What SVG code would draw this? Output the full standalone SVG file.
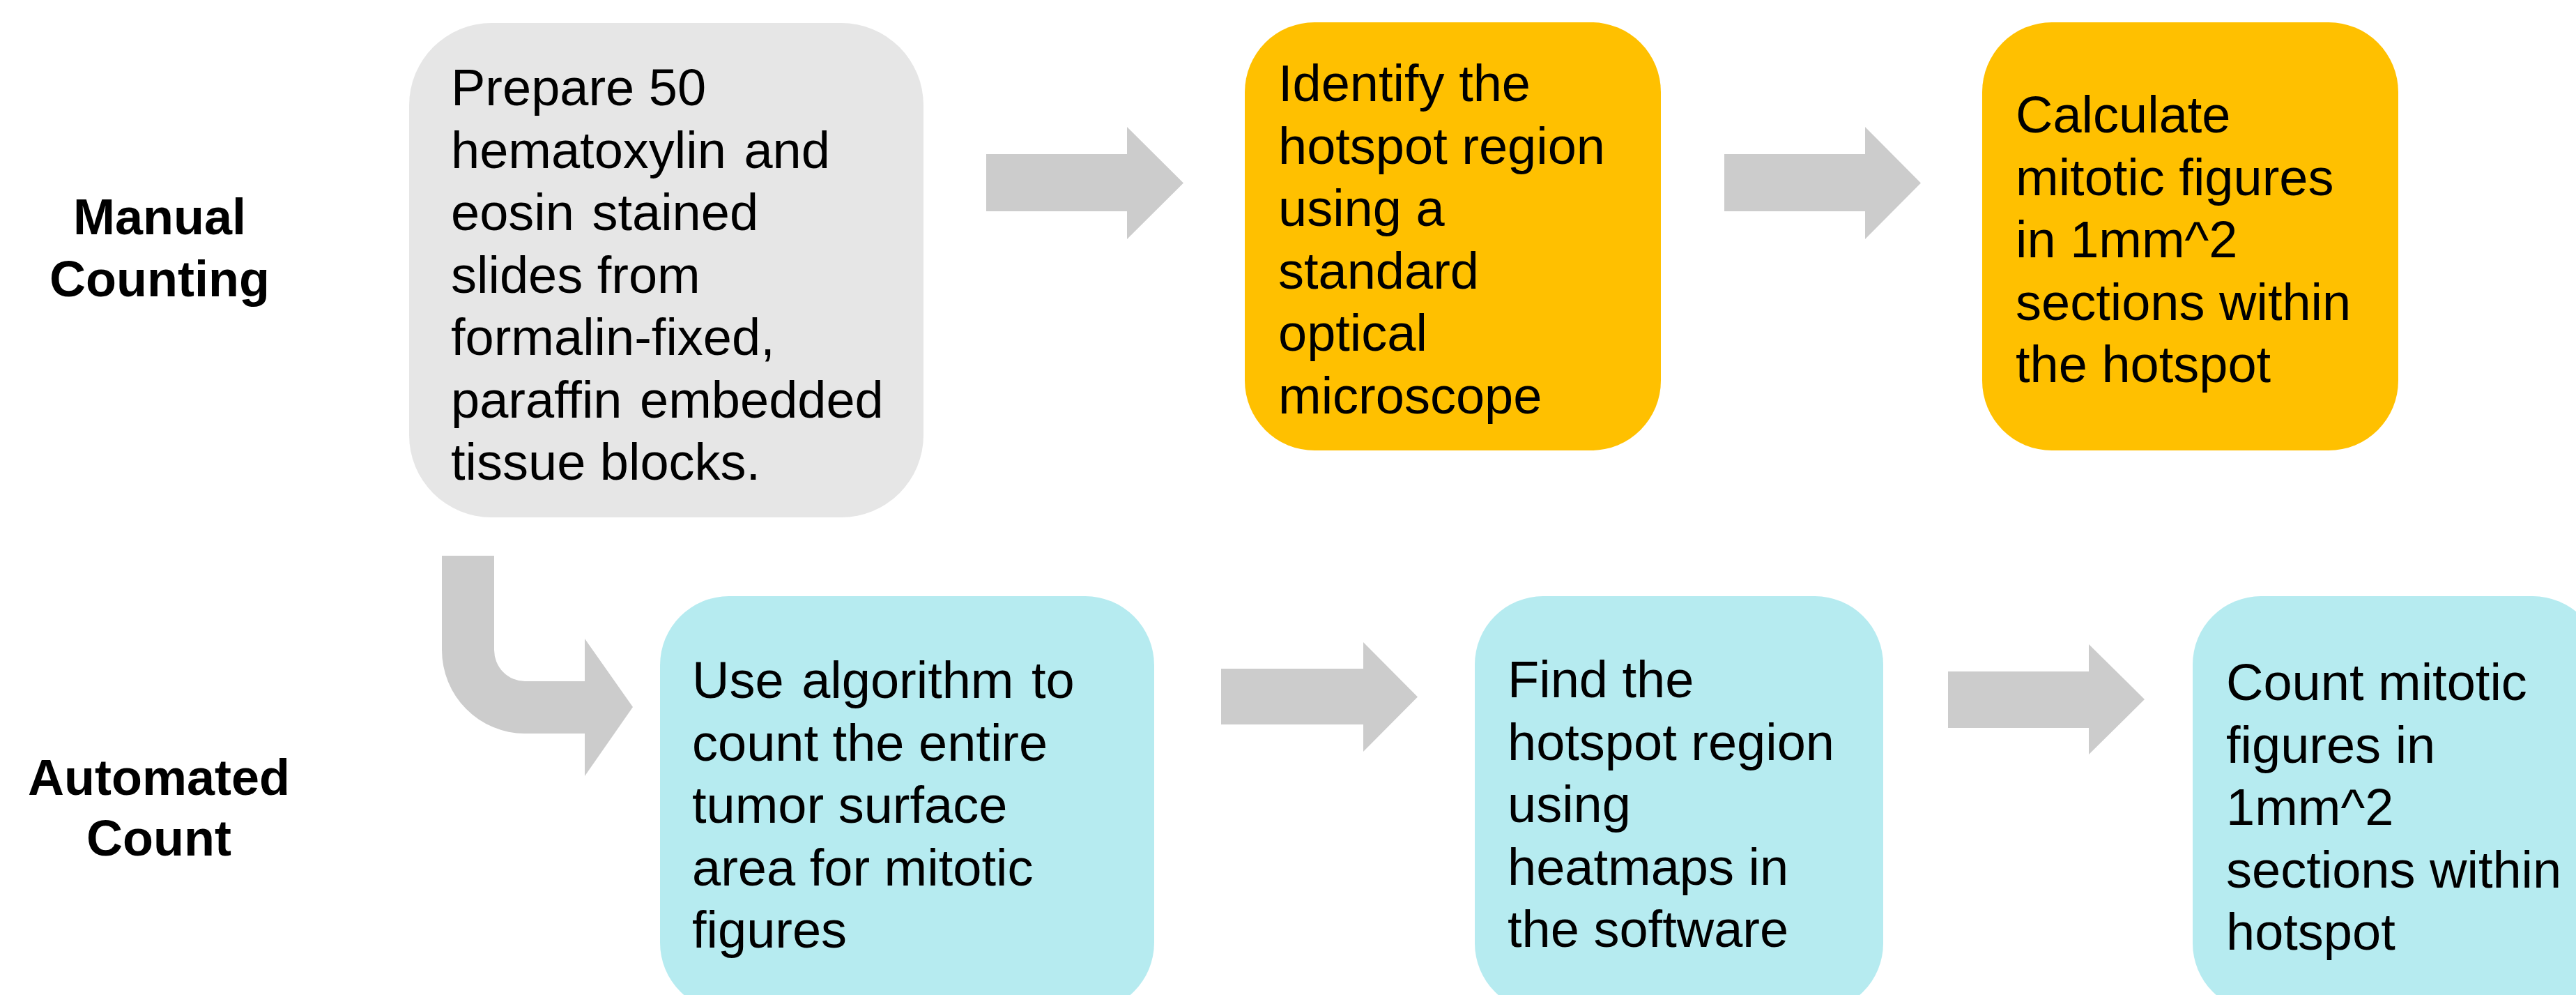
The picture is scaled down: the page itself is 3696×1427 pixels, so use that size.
<svg xmlns="http://www.w3.org/2000/svg" width="3696" height="1427" viewBox="0 0 3696 1427">
  <style>
    .lbl { font-family: "Liberation Sans", Arial, sans-serif; font-size: 72px; font-weight: bold; fill: #000; text-anchor: middle; }
    .txt { font-family: "Liberation Sans", Arial, sans-serif; font-size: 74px; fill: #000; }
    .wide { word-spacing: 5px; }
    .gray { fill: #E6E6E6; }
    .gold { fill: #FFC000; }
    .aqua { fill: #B6EBF0; }
    .arrow { fill: #CCCCCC; }
  </style>

  <rect width="3696" height="1427" fill="#FFFFFF"/>

  <!-- row labels -->
  <g id="label-manual">
    <text class="lbl" x="229" y="336">Manual</text>
    <text class="lbl" x="229" y="425">Counting</text>
  </g>
  <g id="label-automated">
    <text class="lbl" x="228" y="1140">Automated</text>
    <text class="lbl" x="228" y="1227">Count</text>
  </g>

  <!-- connectors -->
  <g id="connectors">
    <path id="arrow-prepare-identify" class="arrow" d="M1415,221 H1617 V182 L1698,262.5 L1617,343 V303 H1415 Z"/>
    <path id="arrow-identify-calculate" class="arrow" d="M2474,221 H2676 V182 L2756,262.5 L2676,343 V303 H2474 Z"/>
    <path id="arrow-prepare-algorithm" class="arrow" d="M634,797 L709,797 L709,932 A44,45 0 0 0 753,977 L839,977 L839,916 L908,1014 L839,1113 L839,1052 L753,1052 A119,120 0 0 1 634,932 Z"/>
    <path id="arrow-algorithm-find" class="arrow" d="M1752,959 H1956 V921 L2034,999.5 L1956,1078 V1039 H1752 Z"/>
    <path id="arrow-find-count" class="arrow" d="M2795,963 H2997 V924 L3077,1003 L2997,1082 V1044 H2795 Z"/>
  </g>

  <!-- manual counting row -->
  <g id="node-prepare">
    <rect class="gray" x="587" y="33" width="738" height="709" rx="118" ry="118"/>
    <text class="txt">
      <tspan x="647" y="151">Prepare 50</tspan>
      <tspan x="647" y="240.5" class="wide">hematoxylin and</tspan>
      <tspan x="647" y="330" class="wide">eosin stained</tspan>
      <tspan x="647" y="419.5">slides from</tspan>
      <tspan x="647" y="509">formalin-fixed,</tspan>
      <tspan x="647" y="598.5" class="wide">paraffin embedded</tspan>
      <tspan x="647" y="688">tissue blocks.</tspan>
    </text>
  </g>

  <g id="node-identify">
    <rect class="gold" x="1786" y="32" width="597" height="614" rx="100" ry="100"/>
    <text class="txt">
      <tspan x="1834" y="145">Identify the</tspan>
      <tspan x="1834" y="234.5">hotspot region</tspan>
      <tspan x="1834" y="324">using a</tspan>
      <tspan x="1834" y="413.5">standard</tspan>
      <tspan x="1834" y="503">optical</tspan>
      <tspan x="1834" y="592.5">microscope</tspan>
    </text>
  </g>

  <g id="node-calculate">
    <rect class="gold" x="2844" y="32" width="597" height="614" rx="100" ry="100"/>
    <text class="txt">
      <tspan x="2892" y="190">Calculate</tspan>
      <tspan x="2892" y="279.5">mitotic figures</tspan>
      <tspan x="2892" y="369">in 1mm^2</tspan>
      <tspan x="2892" y="458.5">sections within</tspan>
      <tspan x="2892" y="548">the hotspot</tspan>
    </text>
  </g>

  <!-- automated count row -->
  <g id="node-algorithm">
    <rect class="aqua" x="947" y="855" width="709" height="596" rx="99" ry="99"/>
    <text class="txt">
      <tspan x="993" y="1001" class="wide">Use algorithm to</tspan>
      <tspan x="993" y="1090.5">count the entire</tspan>
      <tspan x="993" y="1180">tumor surface</tspan>
      <tspan x="993" y="1269.5">area for mitotic</tspan>
      <tspan x="993" y="1359">figures</tspan>
    </text>
  </g>

  <g id="node-find">
    <rect class="aqua" x="2116" y="855" width="586" height="596" rx="98" ry="98"/>
    <text class="txt">
      <tspan x="2163" y="1000">Find the</tspan>
      <tspan x="2163" y="1089.5">hotspot region</tspan>
      <tspan x="2163" y="1179">using</tspan>
      <tspan x="2163" y="1268.5">heatmaps in</tspan>
      <tspan x="2163" y="1358">the software</tspan>
    </text>
  </g>

  <g id="node-count">
    <rect class="aqua" x="3146" y="855" width="586" height="596" rx="98" ry="98"/>
    <text class="txt">
      <tspan x="3194" y="1004">Count mitotic</tspan>
      <tspan x="3194" y="1093.5">figures in</tspan>
      <tspan x="3194" y="1183">1mm^2</tspan>
      <tspan x="3194" y="1272.5">sections within</tspan>
      <tspan x="3194" y="1362">hotspot</tspan>
    </text>
  </g>
</svg>
